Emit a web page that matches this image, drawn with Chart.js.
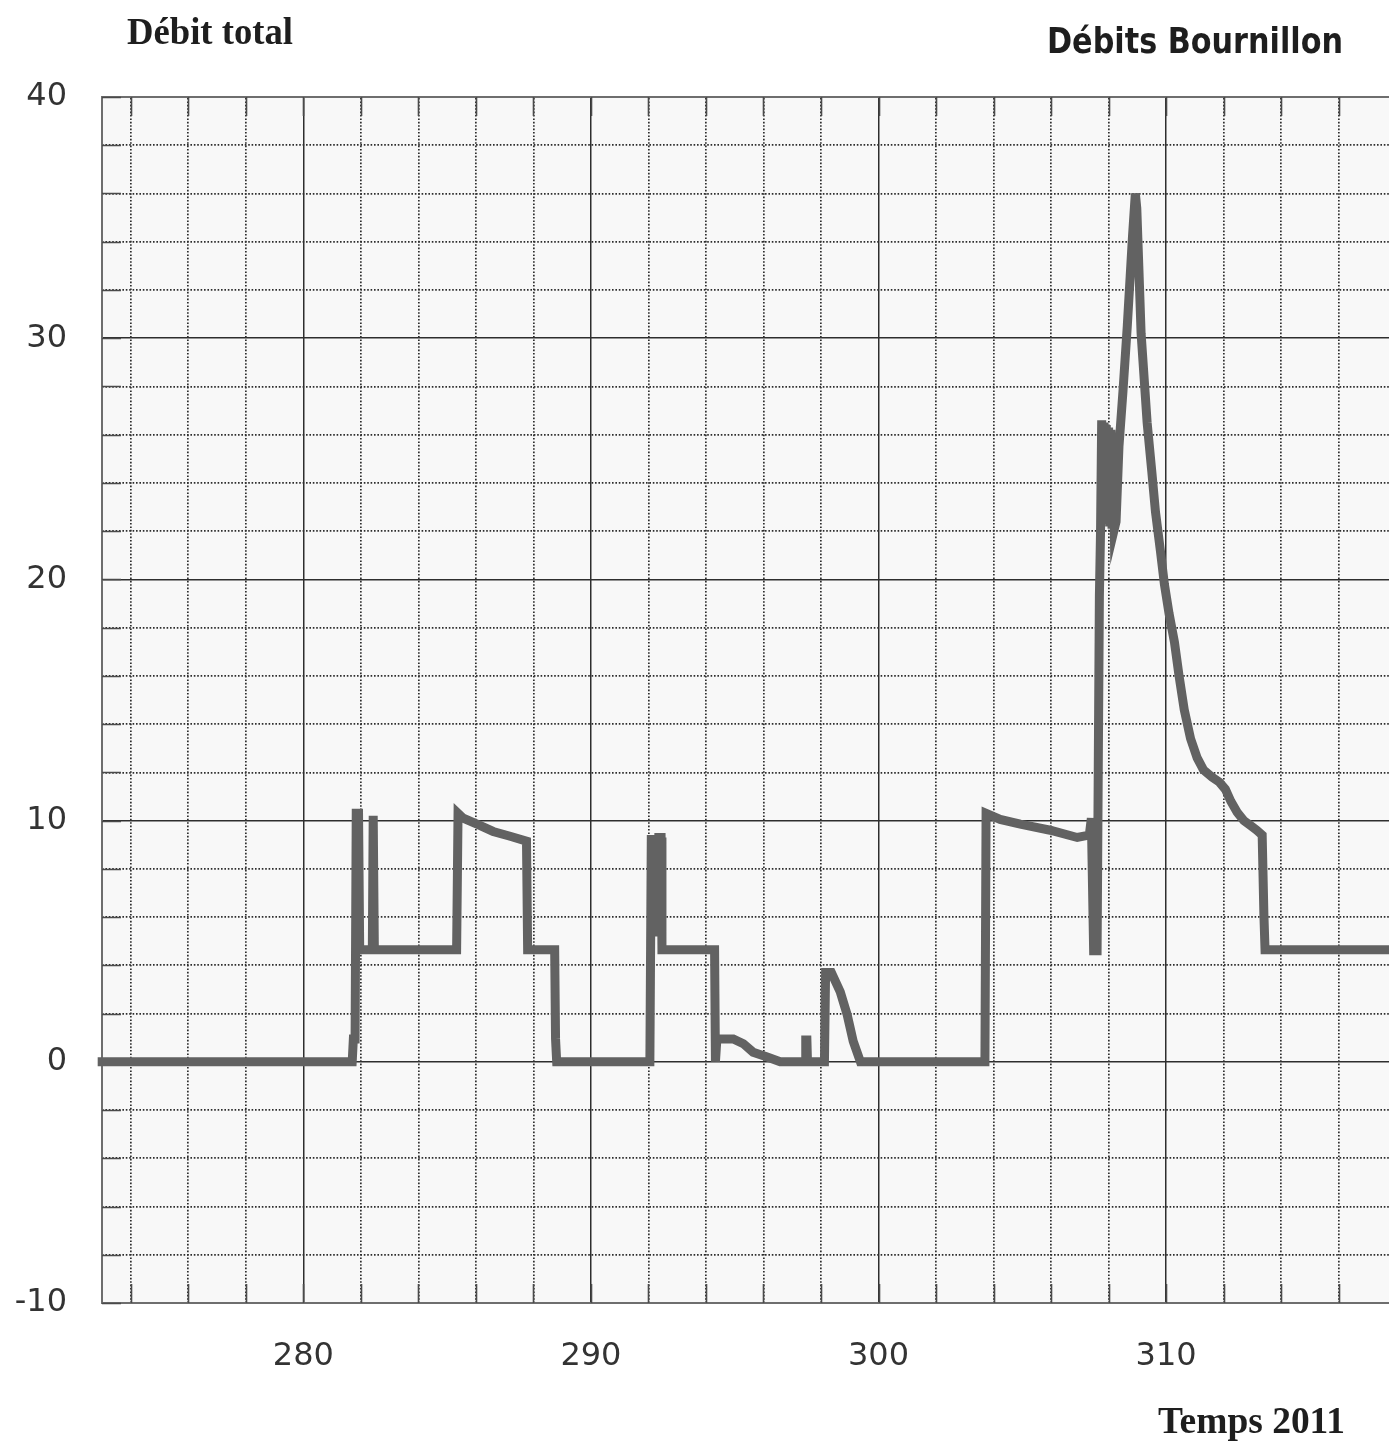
<!DOCTYPE html>
<html><head><meta charset="utf-8">
<script src="https://cdn.jsdelivr.net/npm/chart.js@4.4.1/dist/chart.umd.min.js"></script>
<style>
html,body{margin:0;padding:0;background:#fff;}
#wrap{position:relative;width:1389px;height:1441px;overflow:hidden;background:#fff;}
#c{position:absolute;left:0;top:0;}
.lbl{position:absolute;white-space:nowrap;line-height:1;transform-origin:0 0;color:#1e1e1e;margin:0;padding:0;}
</style></head><body>
<div id="wrap">
<canvas id="c" width="1389" height="1441"></canvas>
<div class="lbl" id="tLeft">Débit total</div>
<div class="lbl" id="tRight">Débits Bournillon</div>
<div class="lbl" id="tAxis">Temps 2011</div>
</div>
<script>
// ---- data (day of year 2011, total discharge) ----
const timeDays = [
  272.85, 281.70, 281.74, 281.80, 281.84, 281.92, 281.96, 282.40, 282.43, 282.47,
  285.33, 285.38, 285.56, 286.04, 286.60, 287.19, 287.76, 287.80, 288.74, 288.77,
  288.81, 292.05, 292.10, 292.16, 292.22, 292.30, 292.36, 292.44, 292.47, 294.30,
  294.33, 294.38, 294.95, 295.30, 295.64, 296.13, 296.58, 297.45, 297.47, 297.51,
  297.53, 298.12, 298.16, 298.36, 298.67, 298.91, 299.12, 299.37, 303.70, 303.74,
  304.23, 304.93, 305.97, 306.91, 307.33, 307.40, 307.48, 307.60, 307.64, 307.68,
  307.72, 307.76, 307.80, 307.84, 307.88, 307.92, 307.96, 308.00, 308.04, 308.08,
  308.12, 308.16, 308.20, 308.26, 308.36, 308.50, 308.65, 308.83, 308.93, 308.98,
  309.05, 309.13, 309.34, 309.50, 309.63, 309.80, 309.94, 310.10, 310.29, 310.45,
  310.63, 310.85, 311.08, 311.30, 311.60, 311.85, 312.06, 312.25, 312.47, 312.70,
  312.93, 313.15, 313.34, 313.40, 313.44, 318.00
];
const flowValues = [
  0, 0, 0.95, 0.95, 10.3, 10.3, 4.65, 4.65, 10.2, 4.65,
  4.65, 10.3, 10.1, 9.85, 9.55, 9.35, 9.15, 4.65, 4.65, 0.95,
  0, 0, 9.4, 5.2, 9.4, 5.2, 9.3, 9.3, 4.65, 4.65,
  0, 0.95, 0.95, 0.75, 0.4, 0.2, 0, 0, 0.9, 0.9,
  0, 0, 3.7, 3.7, 2.9, 1.95, 0.85, 0, 0, 10.3,
  10.05, 9.85, 9.6, 9.3, 9.4, 10.1, 4.6, 4.6, 12, 19.3,
  22, 26.6, 22.4, 26.5, 22.3, 26.4, 22.5, 26.3, 22.2, 26.2,
  22.1, 25.8, 22.1, 22.4, 25.5, 27.8, 30.5, 34.2, 36, 35.4,
  33.0, 30.2, 26.5, 24.5, 22.8, 21.2, 19.8, 18.6, 17.4, 16.0,
  14.6, 13.4, 12.6, 12.1, 11.8, 11.6, 11.3, 10.8, 10.35, 10.0,
  9.8, 9.6, 9.4, 6.1, 4.65, 4.65
];
const xMajorTicks = [280, 290, 300, 310];
const xMinorTicks = [274, 276, 278, 282, 284, 286, 288, 292, 294, 296, 298, 302, 304, 306, 308, 312, 314, 316];
const yMajorTicks = [-10, 0, 10, 20, 30, 40];
const yMinorTicks = [-8, -6, -4, -2, 2, 4, 6, 8, 12, 14, 16, 18, 22, 24, 26, 28, 32, 34, 36, 38];
const titleLeft = 'Débit total';
const titleRight = 'Débits Bournillon';
const xAxisTitle = 'Temps 2011';

// ---- chart ----
const X_MIN = 273, X_MAX = 317.75, Y_MIN = -10, Y_MAX = 40;
const GRID = '#2e2e2e', BORDER = '#6e6e6e';
const fixedTicks = vals => scale => { scale.ticks = vals.map(v => ({ value: v })); };
const tickFont = { family: 'DejaVu Sans', size: 32 };

const plotBg = {
  id: 'plotBg',
  beforeDraw(chart) {
    const { ctx, chartArea: a } = chart;
    ctx.save();
    ctx.fillStyle = '#f8f8f8';
    ctx.fillRect(a.left, a.top, a.right - a.left, a.bottom - a.top);
    ctx.restore();
  }
};
const innerTicks = {
  id: 'innerTicks',
  beforeDatasetsDraw(chart) {
    const { ctx, chartArea: a, scales } = chart;
    const L = 19;
    ctx.save();
    ctx.strokeStyle = '#4a4a4a';
    ctx.lineWidth = 1.6;
    ctx.beginPath();
    xMinorTicks.concat(xMajorTicks).forEach(v => {
      const px = Math.round(scales.x.getPixelForValue(v)) + 0.5;
      ctx.moveTo(px, a.bottom); ctx.lineTo(px, a.bottom - L);
      ctx.moveTo(px, a.top); ctx.lineTo(px, a.top + L);
    });
    yMinorTicks.concat(yMajorTicks).forEach(v => {
      const py = Math.round(scales.y.getPixelForValue(v)) + 0.5;
      ctx.moveTo(a.left, py); ctx.lineTo(a.left + L, py);
    });
    ctx.stroke();
    ctx.restore();
  }
};

new Chart(document.getElementById('c'), {
  type: 'line',
  data: {
    datasets: [{
      data: timeDays.map((t, i) => ({ x: t, y: flowValues[i] })),
      borderColor: '#626262',
      borderWidth: 9,
      pointRadius: 0,
      tension: 0,
      fill: false,
      borderJoinStyle: 'miter',
      borderCapStyle: 'butt',
      clip: { left: 6, top: 0, right: 0, bottom: 0 }
    }]
  },
  options: {
    responsive: false,
    animation: false,
    events: [],
    layout: { padding: { top: 97, left: 0, right: 0, bottom: 0 } },
    plugins: { legend: { display: false }, tooltip: { enabled: false }, title: { display: false } },
    scales: {
      x: {
        type: 'linear', position: 'bottom', min: X_MIN, max: X_MAX,
        afterBuildTicks: fixedTicks(xMajorTicks),
        afterFit: s => { s.height = 138; },
        grid: { color: GRID, lineWidth: 1.5, drawTicks: false },
        border: { display: true, color: BORDER, width: 2 },
        ticks: { padding: 34, font: tickFont, color: '#333', maxRotation: 0, autoSkip: false, callback: v => String(v) }
      },
      xMinor: {
        type: 'linear', position: 'top', min: X_MIN, max: X_MAX,
        afterBuildTicks: fixedTicks(xMinorTicks),
        afterFit: s => { s.height = 0; },
        grid: { color: GRID, lineWidth: 1.7, drawTicks: false },
        border: { display: true, color: BORDER, width: 2, dash: [1.6, 1.8] },
        ticks: { display: false }
      },
      y: {
        type: 'linear', position: 'left', min: Y_MIN, max: Y_MAX,
        afterBuildTicks: fixedTicks(yMajorTicks),
        afterFit: s => { s.width = 102; },
        grid: { color: GRID, lineWidth: 1.5, drawTicks: false },
        border: { display: true, color: BORDER, width: 2 },
        ticks: { padding: 35, font: tickFont, color: '#333', autoSkip: false, callback: v => String(v) }
      },
      yMinor: {
        type: 'linear', position: 'left', min: Y_MIN, max: Y_MAX,
        afterBuildTicks: fixedTicks(yMinorTicks),
        afterFit: s => { s.width = 0; },
        grid: { color: GRID, lineWidth: 1.7, drawTicks: false },
        border: { display: false, dash: [1.6, 1.8] },
        ticks: { display: false }
      }
    }
  },
  plugins: [plotBg, innerTicks]
});

// ---- text labels (real DOM text) ----
const mctx = document.createElement('canvas').getContext('2d');
function placeText(id, text, font, left, baseline, width) {
  const el = document.getElementById(id);
  el.textContent = text;
  el.style.font = font;
  el.style.lineHeight = '1';
  mctx.font = font;
  const m = mctx.measureText(text);
  const fs = parseFloat(font.match(/(\d+(\.\d+)?)px/)[1]);
  const fa = m.fontBoundingBoxAscent, fd = m.fontBoundingBoxDescent;
  const base = (fs - (fa + fd)) / 2 + fa;
  el.style.left = left + 'px';
  el.style.top = (baseline - base) + 'px';
  el.style.transform = 'scaleX(' + (width / m.width) + ')';
}
placeText('tLeft', titleLeft, 'bold 38px "Liberation Serif"', 127, 44, 166);
placeText('tRight', titleRight, 'bold 36px "DejaVu Sans"', 1047, 53, 296);
placeText('tAxis', xAxisTitle, 'bold 38px "Liberation Serif"', 1158, 1433, 187);
</script>
</body></html>
